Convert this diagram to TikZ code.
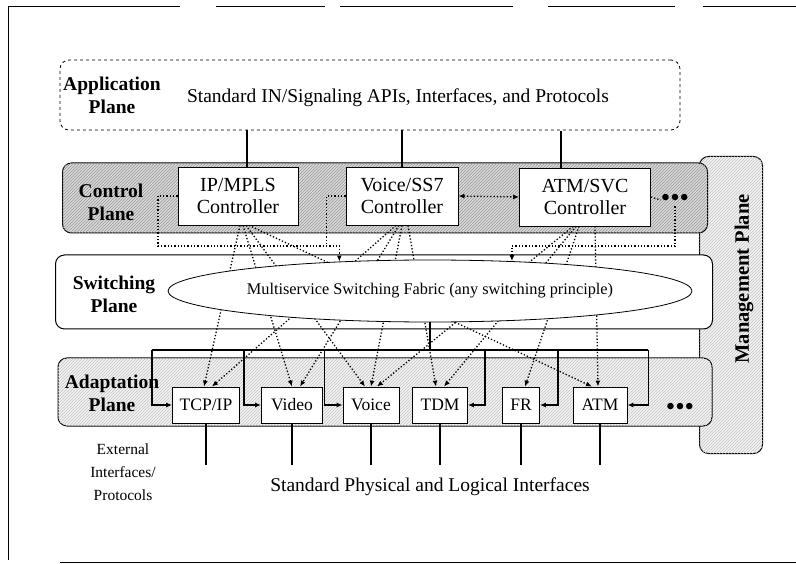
\documentclass[tikz,border=0pt]{standalone}
\usepackage{fontspec}
\setmainfont{Liberation Serif}
\usetikzlibrary{arrows.meta,calc,patterns,shapes.geometric}

\begin{document}
\begin{tikzpicture}[
    x=1pt, y=-1pt,
    every node/.style={font=\fontsize{19.5}{22}\selectfont, align=center, inner sep=0pt},
    plane/.style={draw, line width=1pt, rounded corners=9pt},
    darkhatch/.style={fill=gray!30, postaction={pattern=north east lines, pattern color=gray!80}},
    lighthatch/.style={fill=gray!10, postaction={pattern=north east lines, pattern color=gray!45}},
    ctlbox/.style={draw, thick, fill=white, minimum height=58pt, font=\fontsize{20}{22}\selectfont},
    adbox/.style={draw, thick, fill=white, minimum height=36pt, font=\fontsize{17.5}{18}\selectfont},
    lbl/.style={font=\bfseries\fontsize{19.5}{23}\selectfont},
    dots/.style={font=\fontsize{27}{27}\selectfont},
    ctl/.style={dotted, line width=1.3pt},
    tip/.style={-{Latex[length=6pt,width=5pt]}},
    bus/.style={line width=1.6pt},
    link/.style={line width=1.2pt}
]
  \useasboundingbox (0,0) rectangle (796,564);

  % page frame
  \foreach \a/\b in {8/180, 216/325, 340/513, 548/675, 703/796}
    \draw[thin] (\a,6) -- (\b,6);
  \draw[thin] (8,6) -- (8,560);
  \draw[thin] (60,562) -- (796,562);

  % planes
  \node[plane, dashed, line width=0.8pt, minimum width=620pt, minimum height=70pt] (app) at (370,95) {};
  \node[plane, lighthatch, minimum width=63pt, minimum height=297pt] (mgmt) at (731,305) {};
  \node[plane, darkhatch, minimum width=645pt, minimum height=70pt] (ctlplane) at (385,198) {};
  \node[plane, fill=white, minimum width=657pt, minimum height=74pt] (swplane) at (384,292) {};
  \node[plane, lighthatch, minimum width=654pt, minimum height=68pt] (adplane) at (385,392) {};

  \node[lbl] (applbl) at (112,95) {Application\\Plane};
  \node[lbl] (ctllbl) at (111,202) {Control\\Plane};
  \node[lbl] (swlbl) at (114,294) {Switching\\Plane};
  \node[lbl] (adlbl) at (112,393) {Adaptation\\Plane};
  \node[lbl, rotate=90, font=\bfseries\fontsize{20.5}{22}\selectfont] (mgmtlbl) at (744,279) {Management Plane};

  \node (apitext) at (398,98) {Standard IN/Signaling APIs, Interfaces, and Protocols};

  % controllers
  \node[ctlbox, minimum width=120pt] (ipmpls) at (238,196) {IP/MPLS\\Controller};
  \node[ctlbox, minimum width=112pt] (voicectl) at (402,196) {Voice/SS7\\Controller};
  \node[ctlbox, minimum width=131pt] (atmctl) at (585,197) {ATM/SVC\\Controller};
  \node[dots] (cdots) at (675,200) {\textbullet\textbullet\textbullet};

  % adaptation modules
  \node[adbox, minimum width=67pt] (tcpip) at (206,405) {TCP/IP};
  \node[adbox, minimum width=61pt] (video) at (292,405) {Video};
  \node[adbox, minimum width=56pt] (voice) at (371,405) {Voice};
  \node[adbox, minimum width=55pt] (tdm) at (440,405) {TDM};
  \node[adbox, minimum width=37pt] (fr) at (521,405) {FR};
  \node[adbox, minimum width=54pt] (atmad) at (600,405) {ATM};
  \node[dots] (adots) at (680,409) {\textbullet\textbullet\textbullet};

  % control links
  \foreach \s/\a/\d/\b in {%
    ipmpls/2/tcpip/-2, ipmpls/5/video/0, ipmpls/8/voice/-6, ipmpls/11/atmad/-8,
    voicectl/-6/tcpip/6, voicectl/-3/video/8, voicectl/0/voice/0, voicectl/6/tdm/-4,
    atmctl/-12/voice/6, atmctl/-9/tdm/4, atmctl/-6/fr/4, atmctl/10/atmad/-2}
    \draw[ctl, tip] ($(\s.south)+(\a,0)$) -- ($(\d.north)+(\b,0)$);

  \node[ellipse, draw, thick, fill=white, minimum width=524pt, minimum height=62pt,
    font=\fontsize{16.3}{18}\selectfont] (fabric) at (430,291)
    {Multiservice Switching Fabric (any switching principle)};

  \coordinate (cbus) at (158,246);
  \draw[ctl, tip] (ipmpls.west) -| (cbus) -| (fabric.162);
  \draw[ctl] (voicectl.west) -- ++(-19,0) -- ++(0,50);
  \draw[ctl] (atmctl.east) -- (cdots.west);
  \draw[ctl, tip] (cdots.south) -- (cdots.south |- cbus) -| (fabric.20);
  \draw[ctl, {Latex[length=6pt,width=5pt]}-{Latex[length=6pt,width=5pt]}]
    (voicectl.east) -- (atmctl.west);

  % application links
  \foreach \c/\d in {ipmpls/9, voicectl/0, atmctl/-24}
    \draw[link] ($(\c.north)+(\d,0)$) -- ++(0,-37);

  % data path
  \draw[bus] (fabric.south) -- ++(0,28);
  \draw[bus] ($(tcpip.west)+(-20,-55)$) -- ($(atmad.east)+(21,-55)$);
  \foreach \b/\s/\d in {tcpip/west/-20, video/west/-17, voice/west/-18,
                        tdm/east/17, fr/east/18, atmad/east/21}
    \draw[bus, {Latex[length=6pt,width=5pt]}-] (\b.\s) -- ++(\d,0) -- ++(0,-55);
  \foreach \b in {tcpip, video, voice, tdm, fr, atmad}
    \draw[bus] (\b.south) -- ++(0,42);

  \node (phys) at (430,487) {Standard Physical and Logical Interfaces};
  \node[font=\fontsize{15.5}{23}\selectfont] (ext) at (123,472) {External\\Interfaces/\\Protocols};
\end{tikzpicture}
\end{document}
